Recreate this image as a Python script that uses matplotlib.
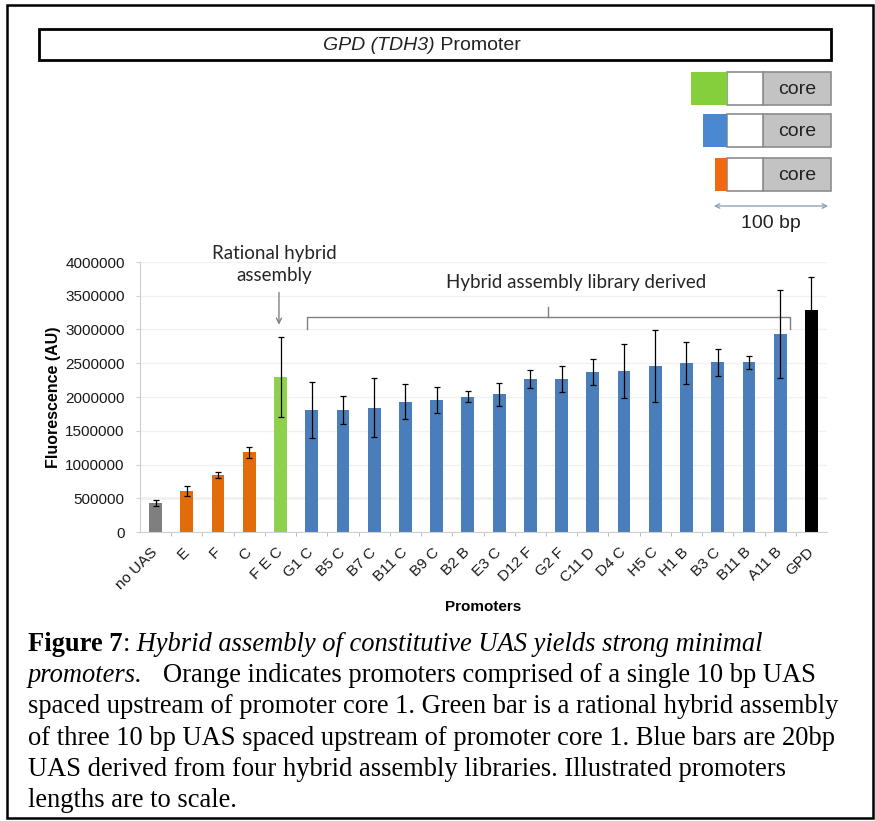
import matplotlib
matplotlib.use('Agg')
import matplotlib.pyplot as plt
from matplotlib.patches import Rectangle

# promoter measurements (fluorescence, AU) with standard deviation
promoters = ['no UAS', 'E', 'F', 'C', 'F E C', 'G1 C', 'B5 C', 'B7 C', 'B11 C', 'B9 C',
             'B2 B', 'E3 C', 'D12 F', 'G2 F', 'C11 D', 'D4 C', 'H5 C', 'H1 B', 'B3 C',
             'B11 B', 'A11 B', 'GPD']
fluor = [430000, 605000, 845000, 1180000, 2300000, 1807000, 1807000, 1842000, 1930000,
         1955000, 2005000, 2040000, 2267000, 2267000, 2375000, 2385000, 2459000, 2499000,
         2514000, 2514000, 2928000, 3289000]
err = [45000, 70000, 50000, 85000, 590000, 420000, 210000, 440000, 260000, 190000,
       85000, 170000, 133000, 197000, 190000, 395000, 530000, 310000, 200000, 100000,
       650000, 490000]
groups = ['none', 'single', 'single', 'single', 'rational'] + ['library'] * 16 + ['native']
yticks = [0, 500000, 1000000, 1500000, 2000000, 2500000, 3000000, 3500000, 4000000]

colors = {'none': '#7f7f7f', 'single': '#e36c0a', 'rational': '#8fd14f',
          'library': '#4a7ebb', 'native': '#000000'}

# UAS lengths in bp for the promoter sketches (top right)
uas_bp = [('rational', 30), ('library', 20), ('single', 10)]
sketch_colors = {'rational': '#86cf3c', 'library': '#4a88d2', 'single': '#f0690f'}
spacer_bp = 30
core_bp = 57
px_per_bp = 1.2

plt.rcParams['font.family'] = ['Liberation Sans', 'DejaVu Sans']

fig = plt.figure(figsize=(8.75, 8.21), dpi=100)

# overlay in pixel units for the sketch, frame and caption
deco = fig.add_axes([0, 0, 1, 1])
deco.set_xlim(0, 875)
deco.set_ylim(821, 0)
deco.axis('off')

deco.add_patch(Rectangle((7, 5), 866, 813, fill=False, ec='black', lw=1.8))

# full-length GPD promoter
deco.add_patch(Rectangle((39, 29), 792, 31, fill=False, ec='black', lw=2))
deco.text(435, 45.5, 'GPD (TDH3)', ha='right', va='center', fontsize=14,
          style='italic', color='#222222')
deco.text(435, 45.5, ' Promoter', ha='left', va='center', fontsize=14, color='#222222')

# minimal promoters drawn to scale
right = 831
row_top = [72, 114, 158]
for (kind, bp), top in zip(uas_bp, row_top):
    h = 33
    core_w = core_bp * px_per_bp
    sp_w = spacer_bp * px_per_bp
    uas_w = bp * px_per_bp
    x_core = right - core_w
    x_sp = x_core - sp_w
    deco.add_patch(Rectangle((x_core, top), core_w, h, fc='#c3c3c3', ec='#8c8c8c', lw=1.2))
    deco.add_patch(Rectangle((x_sp, top), sp_w, h, fc='white', ec='#8c8c8c', lw=1.2))
    deco.add_patch(Rectangle((x_sp - uas_w, top), uas_w, h, fc=sketch_colors[kind], ec='none'))
    deco.text(x_core + core_w / 2, top + h / 2 + 1, 'core', ha='center', va='center',
              fontsize=14, color='#222222')

scale_left = right - 100 * px_per_bp
deco.annotate('', xy=(scale_left, 206), xytext=(right, 206),
              arrowprops=dict(arrowstyle='<->', color='#8fa3ba', lw=1, mutation_scale=8))
deco.text((scale_left + right) / 2, 223, '100 bp', ha='center', va='center',
          fontsize=14, color='#222222')

# bar chart
ax = fig.add_axes([140 / 875, 1 - 532 / 821, 687 / 875, 270 / 821])
x = list(range(len(promoters)))
ax.bar(x, fluor, width=0.41, color=[colors[g] for g in groups], zorder=2)
ax.errorbar(x, fluor, yerr=err, fmt='none', ecolor='black', elinewidth=0.9,
            capsize=2.5, capthick=0.9, zorder=3)

ax.set_xlim(-0.5, len(promoters) - 0.5)
ax.set_ylim(0, 4000000)
ax.set_yticks(yticks)
ax.set_yticklabels([str(v) for v in yticks], fontsize=11, color='#1a1a1a')
ax.set_xticks(x)
ax.set_xticklabels(promoters, rotation=45, ha='right', va='center',
                   rotation_mode='anchor', fontsize=11, color='#1a1a1a')
ax.set_xticks([i + 0.5 for i in x[:-1]], minor=True)
ax.tick_params(axis='x', which='major', length=0, pad=13)
ax.tick_params(axis='x', which='minor', length=3, color='#b0b0b0')
ax.tick_params(axis='y', length=3, color='#d0d0d0', pad=8)

for side in ['top', 'right']:
    ax.spines[side].set_visible(False)
for side in ['left', 'bottom']:
    ax.spines[side].set_color('#cfcfcf')

ax.yaxis.grid(True, color='#f1f1f1', lw=1, zorder=0)
ax.axhline(500000, color='#c9c9c9', lw=1, zorder=1)

ax.set_ylabel('Fluorescence (AU)', fontsize=11.5, fontweight='bold', labelpad=3)
ax.set_xlabel('Promoters', fontsize=11, fontweight='bold', labelpad=6)

# annotations above the bars
fec = promoters.index('F E C')
ax.annotate('', xy=(fec - 0.05, fluor[fec] + err[fec] + 140000),
            xytext=(fec - 0.05, 3590000),
            arrowprops=dict(arrowstyle='->', color='#808080', lw=1, mutation_scale=9),
            annotation_clip=False)
ax.text(fec - 0.2, 3960000, 'Rational hybrid\nassembly', ha='center', va='center',
        fontsize=13.5, family='Lato', color='#262626', linespacing=1.35, clip_on=False)

lo = promoters.index('G1 C') - 0.15
hi = promoters.index('A11 B') + 0.3
mid = (lo + hi) / 2
ax.plot([lo, lo, hi, hi], [3007000, 3185000, 3185000, 3007000], color='#808080',
        lw=1, clip_on=False)
ax.plot([mid, mid], [3185000, 3330000], color='#808080', lw=1, clip_on=False)
ax.text(mid + 0.9, 3690000, 'Hybrid assembly library derived', ha='center',
        va='center', fontsize=13.5, family='Lato', color='#262626', clip_on=False)

# figure caption, mixed styles on each line
serif = 'Liberation Serif'
cap_size = 19.1
caption = [
    [('Figure 7', 'normal', 'bold'), (':', 'normal', 'normal'),
     (' Hybrid assembly of constitutive UAS yields strong minimal', 'italic', 'normal')],
    [('promoters.', 'italic', 'normal'),
     ('   Orange indicates promoters comprised of a single 10 bp UAS', 'normal', 'normal')],
    [('spaced upstream of promoter core 1. Green bar is a rational hybrid assembly', 'normal', 'normal')],
    [('of three 10 bp UAS spaced upstream of promoter core 1. Blue bars are 20bp', 'normal', 'normal')],
    [('UAS derived from four hybrid assembly libraries. Illustrated promoters', 'normal', 'normal')],
    [('lengths are to scale.', 'normal', 'normal')],
]
base_y = 651
line_gap = 31.2
for n, parts in enumerate(caption):
    prev = None
    for text, style, weight in parts:
        if prev is None:
            prev = deco.text(28, base_y + n * line_gap, text, ha='left', va='baseline',
                             family=serif, fontsize=cap_size, style=style,
                             fontweight=weight, color='black')
        else:
            prev = deco.annotate(text, xy=(1, 0), xycoords=prev, ha='left', va='bottom',
                                 family=serif, fontsize=cap_size, style=style,
                                 fontweight=weight, color='black')

fig.savefig('out.png', dpi=100, facecolor='white')
